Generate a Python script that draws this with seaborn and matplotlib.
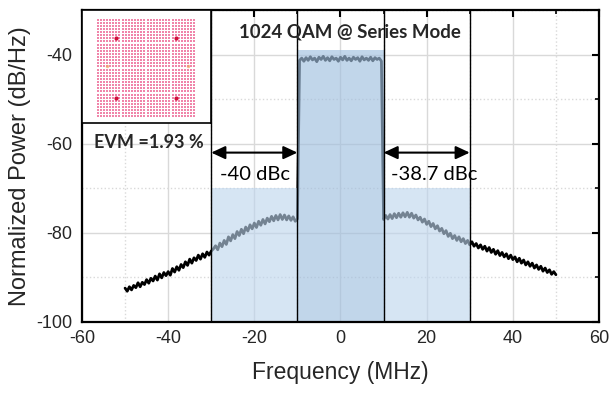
import numpy as np
import pandas as pd
import matplotlib
matplotlib.use("Agg")
import matplotlib.pyplot as plt
from matplotlib.ticker import MultipleLocator
import seaborn as sns

# Measured power spectral density, 0.5 MHz steps from -50 to 50 MHz (dB/Hz)
psd_lower_out = [-92.4, -93.1, -92.1, -92.8, -91.8, -92.3, -91.2, -92.1, -91.1, -91.6,
                 -90.5, -91.3, -90.2, -90.8, -89.7, -90.6, -89.2, -90.1, -88.9, -89.6,
                 -88.7, -89.5, -88.0, -88.8, -87.6, -88.4, -87.1, -87.8, -86.5, -87.3,
                 -85.9, -86.8, -85.6, -86.2, -85.0, -85.9, -84.7, -85.5, -84.3, -85.0,
                 -84.1]
psd_lower_adj = [-83.6, -82.9, -83.8, -82.3, -83.1, -81.7, -82.6, -80.9, -81.8, -80.4,
                 -81.3, -79.7, -80.6, -79.2, -80.2, -78.7, -79.6, -78.2, -79.1, -77.8,
                 -78.8, -77.4, -78.3, -77.0, -78.0, -76.7, -77.5, -76.3, -77.3, -76.1,
                 -77.1, -75.9, -77.0, -76.0, -77.1, -76.2, -77.2, -76.4, -77.4, -76.9]
psd_channel = [-41.3, -40.8, -41.5, -40.7, -41.3, -40.5, -41.2, -40.8, -41.6, -40.6,
               -41.1, -40.4, -41.3, -40.7, -41.4, -40.5, -41.1, -40.8, -41.5, -40.6,
               -41.2, -40.4, -41.3, -40.8, -41.4, -40.6, -41.1, -40.7, -41.5, -40.5,
               -41.2, -40.8, -41.3, -40.6, -41.4, -40.7, -41.1, -40.8, -41.5]
psd_upper_adj = [-77.0, -76.1, -76.9, -75.9, -76.8, -75.7, -76.6, -75.6, -76.5, -75.5,
                 -76.4, -75.4, -76.5, -75.6, -76.7, -76.0, -77.1, -76.5, -77.6, -76.9,
                 -78.1, -77.4, -78.6, -77.9, -79.1, -78.4, -79.6, -79.0, -80.2, -79.5,
                 -80.8, -80.1, -81.3, -80.6, -81.7, -80.9, -82.0, -81.3, -82.4, -81.7]
psd_upper_out = [-82.7, -82.0, -83.0, -82.4, -83.4, -82.7, -83.7, -83.0, -84.1, -83.3,
                 -84.4, -83.7, -84.8, -84.0, -85.1, -84.4, -85.4, -84.7, -85.8, -85.0,
                 -86.0, -85.4, -86.5, -85.7, -86.8, -86.1, -87.2, -86.5, -87.5, -86.8,
                 -87.9, -87.2, -88.2, -87.5, -88.6, -87.9, -88.9, -88.3, -89.3, -88.7,
                 -89.4]

psd = psd_lower_out + psd_lower_adj + psd_channel + psd_upper_adj + psd_upper_out
freq = np.linspace(-50, 50, len(psd))

# Channel / adjacent-channel bands (MHz) and the heights of their shaded boxes
channel_band = [-10, 10]
lower_adj_band = [-30, -10]
upper_adj_band = [10, 30]
channel_box_top = -39
adj_box_top = -70
aclr_arrow_level = -62
aclr_labels = ["-40 dBc", "-38.7 dBc"]
aclr_label_x = [-19.8, 21.7]
aclr_label_y = -67

# 1024-QAM constellation levels and pilot/marker symbols
qam_levels = [-31, -29, -27, -25, -23, -21, -19, -17, -15, -13, -11, -9, -7, -5, -3, -1,
              1, 3, 5, 7, 9, 11, 13, 15, 17, 19, 21, 23, 25, 27, 29, 31]
pilot_i = [-19, 19, -19, 19]
pilot_q = [19, 19, -19, -19]
marker_i = [-25, 27]
marker_q = [1, 1]

sns.set_theme(style="white")
plt.rcParams["font.family"] = ["Liberation Sans", "DejaVu Sans"]
plt.rcParams["axes.unicode_minus"] = False

fig = plt.figure(figsize=(6.16, 3.93), dpi=100)
ax = fig.add_axes([0.1331, 0.1807, 0.8393, 0.7939])

df = pd.DataFrame({"Frequency (MHz)": freq, "PSD": psd})
sns.lineplot(data=df, x="Frequency (MHz)", y="PSD", ax=ax, color="black",
             lw=2.0, estimator=None, sort=True, zorder=2)

# Semi-transparent band shading over the spectrum
for band in (lower_adj_band, upper_adj_band):
    ax.fill_between(band, -100, adj_box_top, color="#BDD5ED", alpha=0.62,
                    lw=0, zorder=3)
ax.fill_between(channel_band, -100, channel_box_top, color="#A1C0DF", alpha=0.65,
                lw=0, zorder=3)

for xv in (lower_adj_band[0], channel_band[0], channel_band[1], upper_adj_band[1]):
    ax.axvline(xv, color="black", lw=1.0, zorder=4)

# ACLR arrows and labels
for band, label, lx in zip((lower_adj_band, upper_adj_band), aclr_labels, aclr_label_x):
    ax.annotate("", xy=(band[1], aclr_arrow_level), xytext=(band[0], aclr_arrow_level),
                arrowprops=dict(arrowstyle="<|-|>,head_length=0.6,head_width=0.28",
                                color="black", lw=1.5, mutation_scale=14,
                                shrinkA=0, shrinkB=0), zorder=5)
    ax.text(lx, aclr_label_y, label, ha="center", va="center", fontsize=14.5,
            family=["Lato", "DejaVu Sans"], color="black", zorder=5)

ax.text(2.2, -35, "1024 QAM @ Series Mode", ha="center", va="center",
        fontsize=13.4, fontweight="bold", family=["Lato", "DejaVu Sans"], zorder=5)

ax.set_xlim(-60, 60)
ax.set_ylim(-100, -30)
ax.xaxis.set_major_locator(MultipleLocator(20))
ax.xaxis.set_minor_locator(MultipleLocator(10))
ax.yaxis.set_major_locator(MultipleLocator(20))
ax.yaxis.set_minor_locator(MultipleLocator(10))
ax.grid(which="major", color="#d9d9d9", lw=1.0, ls="-")
ax.grid(which="minor", color="#d9d9d9", lw=1.0, ls=":")
ax.set_axisbelow(True)
ax.tick_params(which="both", direction="in", top=True, right=True, color="black")
ax.tick_params(which="major", length=5, width=1.5, labelsize=13)
ax.tick_params(which="minor", length=3, width=1.2)
ax.tick_params(axis="x", pad=6)
ax.tick_params(axis="y", pad=7)
for sp in ax.spines.values():
    sp.set_color("black")
    sp.set_linewidth(1.6)
    sp.set_zorder(6)

ax.set_xlabel("Frequency (MHz)", fontsize=16.5, labelpad=10)
ax.set_ylabel("Normalized Power (dB/Hz)", fontsize=17, labelpad=4)

# Inset constellation box with EVM readout below
box = fig.add_axes([0.1331, 0.687, 0.2094, 0.2875])
box.set_facecolor("white")
box.set_xticks([])
box.set_yticks([])
for sp in box.spines.values():
    sp.set_color("black")
    sp.set_linewidth(1.2)

const = fig.add_axes([0.1558, 0.6997, 0.1623, 0.2545])
gi, gq = np.meshgrid(qam_levels, qam_levels)
cdf = pd.DataFrame({"I": gi.ravel(), "Q": gq.ravel()})
sns.scatterplot(data=cdf, x="I", y="Q", ax=const, marker="s", s=4.2,
                color="#EC5C8E", alpha=0.75, linewidth=0)
const.scatter(marker_i, marker_q, s=6, color="#F0A060", alpha=0.7, linewidths=0)
const.scatter(pilot_i, pilot_q, s=9, color="#D0103C", linewidths=0)
const.set_xlim(-32, 32)
const.set_ylim(-32, 32)
const.axis("off")

fig.text(0.2419, 1 - 143 / 393, "EVM =1.93 %", ha="center", va="center",
         fontsize=13, fontweight="bold", family=["Lato", "DejaVu Sans"])

fig.savefig("out.png", dpi=100)
